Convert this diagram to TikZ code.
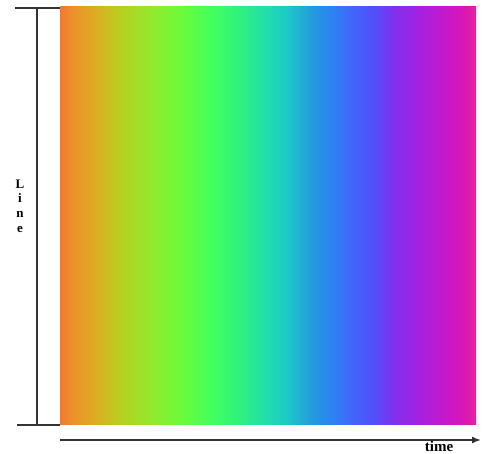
\documentclass[tikz,border=0pt]{standalone}
\usepackage{fontspec}
\setmainfont{Liberation Serif}
\usepackage{tikz}
\usetikzlibrary{arrows.meta}
\usepackage{xcolor}
\definecolor{s0}{HTML}{F27A30}
\definecolor{s1}{HTML}{E8952A}
\definecolor{s2}{HTML}{DCAC24}
\definecolor{s3}{HTML}{C8C220}
\definecolor{s4}{HTML}{B0D422}
\definecolor{s5}{HTML}{8EEC30}
\definecolor{s6}{HTML}{68FC3C}
\definecolor{s7}{HTML}{40FF60}
\definecolor{s8}{HTML}{30F080}
\definecolor{s9}{HTML}{22E0A8}
\definecolor{s10}{HTML}{1CC8C8}
\definecolor{s11}{HTML}{2498E0}
\definecolor{s12}{HTML}{2C84F0}
\definecolor{s13}{HTML}{4068FA}
\definecolor{s14}{HTML}{5050FA}
\definecolor{s15}{HTML}{8030F0}
\definecolor{s16}{HTML}{A820E0}
\definecolor{s17}{HTML}{C818C8}
\definecolor{s18}{HTML}{DA18B0}
\definecolor{s19}{HTML}{E820A0}
\definecolor{axisgray}{HTML}{333333}
\pgfdeclarehorizontalshading{spectrum}{100bp}{color(0bp)=(s0); color(25bp)=(s0);
  color(26.8bp)=(s1); color(29.2bp)=(s2); color(31bp)=(s3); color(32.8bp)=(s4);
  color(36.4bp)=(s5); color(39.7bp)=(s6); color(43.4bp)=(s7); color(46.6bp)=(s8);
  color(49.4bp)=(s9); color(52.3bp)=(s10); color(55.4bp)=(s11); color(57.5bp)=(s12);
  color(59.9bp)=(s13); color(62.6bp)=(s14); color(65bp)=(s15); color(68.3bp)=(s16);
  color(71.5bp)=(s17); color(73.7bp)=(s18); color(75bp)=(s19); color(100bp)=(s19)}

\begin{document}
\begin{tikzpicture}[x=1pt,y=-1pt,>={Latex[length=9pt,width=7pt]},
  axis/.style={draw=axisgray,line width=1.6pt},
  lbl/.style={font=\bfseries}]
\useasboundingbox (0,0) rectangle (483,454);
\shade[shading=spectrum] (60,7) rectangle (476,425);
\coordinate (tl) at (15,8);
\coordinate (tr) at (60,8);
\coordinate (bl) at (17,425);
\coordinate (br) at (60,425);
\coordinate (top) at (37,8);
\coordinate (bot) at (37,425);
\coordinate (start) at (60,440);
\coordinate (end) at (481,440);
\draw[axis] (tl) -- (tr);
\draw[axis] (bl) -- (br);
\draw[axis] (top) -- (bot);
\draw[axis,->] (start) -- (end);
\node[lbl,font=\bfseries\fontsize{15}{17}\selectfont,anchor=base,inner sep=0pt] (time) at (439,452) {time};
\node[lbl,font=\bfseries\fontsize{13}{14.7}\selectfont,align=center] (line) at (20,206) {L\\i\\n\\e};
\end{tikzpicture}
\end{document}
